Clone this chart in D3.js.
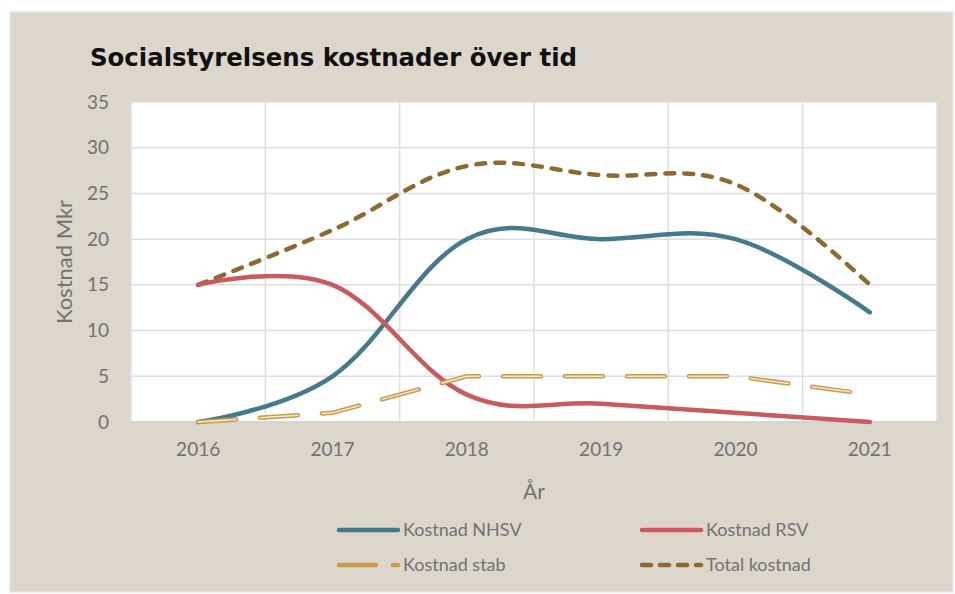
<!DOCTYPE html>
<html>
<head>
<meta charset="utf-8">
<script src="https://cdn.jsdelivr.net/npm/d3@7"></script>
<style>
    body { margin: 0; background: #fff; }
    text { font-family: Lato, "Open Sans", sans-serif; }
</style>
</head>
<body>
<div id="chart"></div>
<script>
// Data
var years = ["2016", "2017", "2018", "2019", "2020", "2021"];
var nhsv = [0, 5, 20, 20, 20, 12];
var rsv = [15, 15, 3, 2, 1, 0];
var stab = [0, 1, 5, 5, 5, 3];
var total = [15, 21, 28, 27, 26, 15];
var yTicks = [0, 5, 10, 15, 20, 25, 30, 35];

var width = 955;
var height = 594;

// Plot area
var m = { left: 131, right: 937, top: 102, bottom: 422 };

var textColor = "#737373";

var svg = d3.select("#chart")
    .append("svg")
    .attr("width", width)
    .attr("height", height);

// Background panel
svg.append("rect")
    .attr("x", 10).attr("y", 12)
    .attr("width", 943).attr("height", 580)
    .attr("fill", "#ddd6cb")
    .attr("stroke", "#e4e8ec")
    .attr("stroke-width", 1.5);

// Title
svg.append("text")
    .attr("x", 90)
    .attr("y", 66)
    .attr("textLength", 487)
    .attr("lengthAdjust", "spacingAndGlyphs")
    .style("font-family", "'DejaVu Sans', sans-serif")
    .style("font-weight", "bold")
    .style("font-size", "25px")
    .style("fill", "#111")
    .text("Socialstyrelsens kostnader över tid");

var x = d3.scaleBand()
    .domain(years)
    .range([m.left, m.right]);

var y = d3.scaleLinear()
    .domain([0, 35])
    .range([m.bottom, m.top]);

// Plot background
svg.append("rect")
    .attr("x", m.left).attr("y", m.top)
    .attr("width", m.right - m.left).attr("height", m.bottom - m.top)
    .attr("fill", "#fff");

var grid = svg.append("g");

// Horizontal gridlines
grid.selectAll("line.h")
    .data(yTicks)
    .enter().append("line")
    .attr("class", "h")
    .attr("x1", m.left).attr("x2", m.right)
    .attr("y1", function(d) { return y(d); })
    .attr("y2", function(d) { return y(d); })
    .attr("stroke", "#dedede")
    .attr("stroke-width", 1.5);

// Vertical gridlines at category boundaries
grid.selectAll("line.v")
    .data(years.concat(["end"]))
    .enter().append("line")
    .attr("class", "v")
    .attr("x1", function(d, i) { return i < years.length ? x(d) : m.right; })
    .attr("x2", function(d, i) { return i < years.length ? x(d) : m.right; })
    .attr("y1", m.top).attr("y2", m.bottom)
    .attr("stroke", "#dedede")
    .attr("stroke-width", 1.5);

// Bottom axis line
svg.append("line")
    .attr("x1", m.left).attr("x2", m.right)
    .attr("y1", m.bottom).attr("y2", m.bottom)
    .attr("stroke", "#d0d0d0")
    .attr("stroke-width", 1.5);

// Y axis labels
var yAxis = svg.append("g")
    .attr("transform", "translate(" + (m.left - 22) + ",0)")
    .call(d3.axisLeft(y).tickValues(yTicks).tickSize(0).tickPadding(0));
yAxis.select(".domain").remove();
yAxis.selectAll("text")
    .style("font-size", "19px")
    .style("fill", textColor)
    .style("font-family", "Lato, sans-serif");

// X axis labels
var xAxis = svg.append("g")
    .attr("transform", "translate(0," + (m.bottom + 20) + ")")
    .call(d3.axisBottom(x).tickSize(0).tickPadding(0));
xAxis.select(".domain").remove();
xAxis.selectAll("text")
    .style("font-size", "19px")
    .style("fill", textColor)
    .style("font-family", "Lato, sans-serif");

// Axis titles
svg.append("text")
    .attr("x", (m.left + m.right) / 2)
    .attr("y", 499)
    .attr("text-anchor", "middle")
    .style("font-size", "21px")
    .style("fill", textColor)
    .text("År");

svg.append("text")
    .attr("transform", "translate(72," + ((m.top + m.bottom) / 2) + ") rotate(-90)")
    .attr("text-anchor", "middle")
    .style("font-size", "22px")
    .style("fill", textColor)
    .text("Kostnad Mkr");

var smoothLine = d3.line()
    .x(function(d, i) { return x(years[i]) + x.bandwidth() / 2; })
    .y(function(d) { return y(d); })
    .curve(d3.curveCardinal.tension(-0.1));

var straightLine = d3.line()
    .x(function(d, i) { return x(years[i]) + x.bandwidth() / 2; })
    .y(function(d) { return y(d); });

var series = [
    { name: "Kostnad NHSV", values: nhsv, color: "#457a8b", dash: null, line: smoothLine },
    { name: "Kostnad RSV", values: rsv, color: "#c75b60", dash: null, line: smoothLine },
    { name: "Kostnad stab", values: stab, color: "#c99b50", dash: "38,24", inner: true, line: straightLine },
    { name: "Total kostnad", values: total, color: "#8b6b2f", dash: "9,10", line: smoothLine }
];

// Draw lines (total first so others lie above where they meet)
var drawOrder = [series[3], series[0], series[1], series[2]];
drawOrder.forEach(function(s) {
    svg.append("path")
        .datum(s.values)
        .attr("d", s.line)
        .attr("fill", "none")
        .attr("stroke", s.color)
        .attr("stroke-width", 4.5)
        .attr("stroke-linecap", "round")
        .attr("stroke-dasharray", s.dash);
    if (s.inner) {
        svg.append("path")
            .datum(s.values)
            .attr("d", s.line)
            .attr("fill", "none")
            .attr("stroke", "#f6e8cf")
            .attr("stroke-width", 1.5)
            .attr("stroke-linecap", "round")
            .attr("stroke-dasharray", s.dash);
    }
});

// Legend
var legendPos = [
    { x: 339, y: 530 },
    { x: 642, y: 530 },
    { x: 339, y: 565 },
    { x: 642, y: 565 }
];

var legend = svg.selectAll("g.legend")
    .data(series)
    .enter().append("g")
    .attr("class", "legend")
    .attr("transform", function(d, i) {
        return "translate(" + legendPos[i].x + "," + legendPos[i].y + ")";
    });

legend.append("line")
    .attr("x1", 0).attr("x2", 59)
    .attr("y1", 0).attr("y2", 0)
    .attr("stroke", function(d) { return d.color; })
    .attr("stroke-width", 4.5)
    .attr("stroke-linecap", "round")
    .attr("stroke-dasharray", function(d) {
        if (d.name == "Kostnad stab") return "37,17";
        if (d.name == "Total kostnad") return "9,9";
        return null;
    });

legend.append("text")
    .attr("x", 64)
    .attr("y", 0)
    .attr("dy", "0.35em")
    .style("font-size", "18px")
    .style("fill", textColor)
    .text(function(d) { return d.name; });
</script>
</body>
</html>
